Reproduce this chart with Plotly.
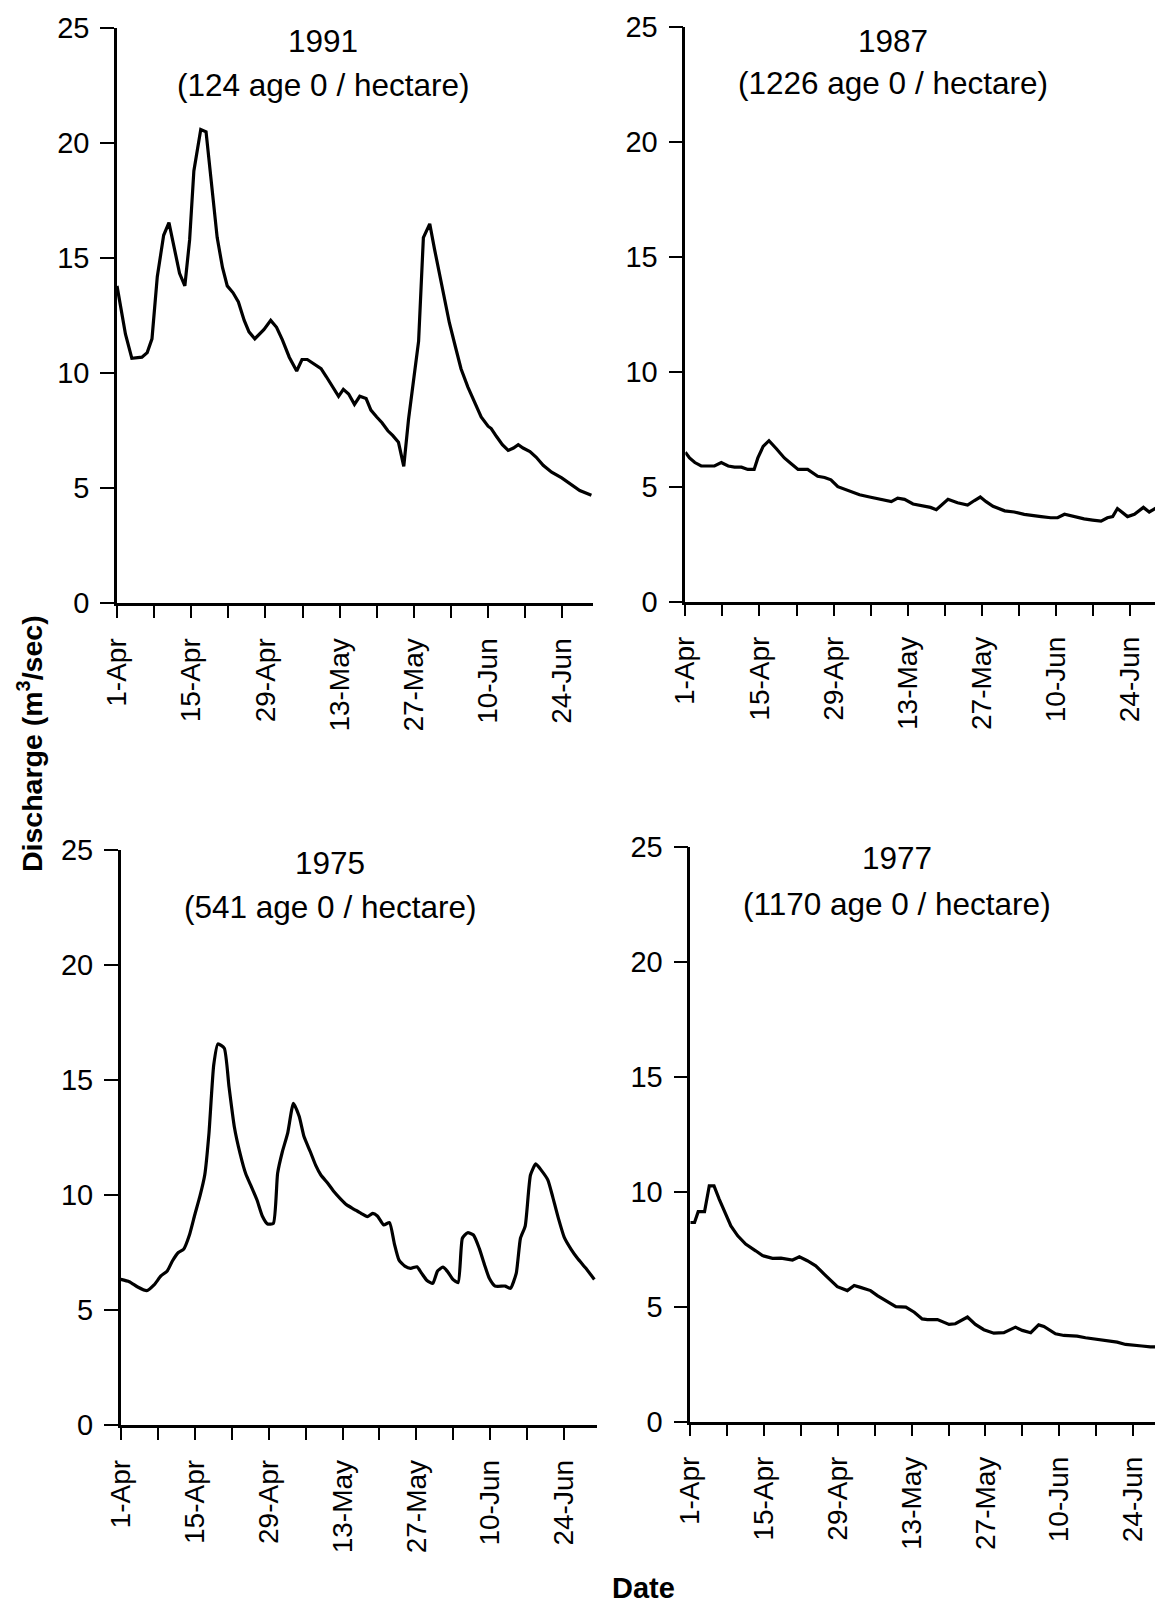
import plotly.graph_objects as go

# ---------------- data (day offset from 1-Apr, discharge m3/sec) ----------------
days_1991 = [0, 1.6, 2.8, 4.7, 5.7, 6.6, 7.6, 8.8, 9.8, 10.7,
             11.8, 12.8, 13.7, 14.5, 15.8, 16.8, 18.0, 18.9, 19.9, 20.8,
             21.9, 22.9, 24.0, 24.9, 26.0, 27.7, 29.0, 30.1, 31.2, 32.5,
             33.9, 34.9, 35.9, 37.2, 38.5, 39.5, 40.7, 41.8, 42.7, 43.7,
             44.8, 45.8, 47.0, 47.9, 49.0, 50.0, 51.1, 52.0, 53.1, 54.1,
             55.0, 56.1, 56.9, 57.8, 59.0, 59.9, 60.8, 61.8, 62.7, 63.9,
             64.9, 66.2, 67.5, 68.7, 70.0, 70.6, 71.6, 72.7, 73.8, 74.8,
             75.7, 76.6, 77.9, 79.1, 80.4, 82.0, 83.9, 85.8, 87.3, 89.5]
q_1991 = [13.8, 11.7, 10.65, 10.7, 10.9, 11.5, 14.2, 16.0, 16.55, 15.5,
          14.35, 13.8, 15.8, 18.8, 20.6, 20.5, 17.7, 15.9, 14.6, 13.8,
          13.5, 13.1, 12.3, 11.8, 11.5, 11.9, 12.3, 12.0, 11.45, 10.7,
          10.1, 10.6, 10.6, 10.4, 10.2, 9.85, 9.4, 9.0, 9.3, 9.1,
          8.65, 9.0, 8.9, 8.4, 8.1, 7.85, 7.5, 7.3, 7.0, 5.95,
          8.0, 10.1, 11.4, 15.9, 16.5, 15.4, 14.4, 13.2, 12.2, 11.1,
          10.2, 9.4, 8.7, 8.1, 7.7, 7.6, 7.25, 6.9, 6.65, 6.75,
          6.9, 6.75, 6.6, 6.35, 6.0, 5.7, 5.45, 5.15, 4.9, 4.7]

days_1987 = [0, 0.8, 1.8, 3.0, 5.5, 6.8, 8.1, 9.3, 10.6, 11.8,
             13.0, 13.7, 14.7, 15.8, 17.2, 18.7, 20.0, 21.3, 23.1, 25.0,
             26.3, 27.5, 28.8, 30.7, 32.9, 34.8, 37.0, 38.9, 40.1, 41.4,
             43.0, 45.2, 46.3, 47.4, 48.3, 49.6, 51.4, 53.3, 54.6, 55.7,
             56.8, 58.1, 60.3, 62.1, 64.0, 65.3, 67.2, 69.0, 70.3, 71.6,
             73.4, 75.3, 76.9, 78.5, 79.7, 80.7, 81.6, 82.6, 83.5, 84.8,
             86.5, 87.6, 88.6, 89.5]
q_1987 = [6.5, 6.25, 6.05, 5.9, 5.9, 6.05, 5.9, 5.85, 5.85, 5.75,
          5.75, 6.25, 6.75, 7.0, 6.65, 6.25, 6.0, 5.75, 5.75, 5.45,
          5.4, 5.3, 5.0, 4.85, 4.65, 4.55, 4.45, 4.35, 4.5, 4.45,
          4.25, 4.15, 4.1, 4.0, 4.2, 4.45, 4.3, 4.2, 4.4, 4.55,
          4.35, 4.15, 3.95, 3.9, 3.8, 3.75, 3.7, 3.65, 3.65, 3.8,
          3.7, 3.6, 3.55, 3.5, 3.65, 3.7, 4.05, 3.85, 3.7, 3.8,
          4.1, 3.9, 4.05, 4.15]

days_1975 = [0, 1.6, 3.2, 4.9, 6.3, 7.6, 8.8, 9.8, 10.9, 11.9,
             13.0, 14.0, 15.0, 15.9, 16.7, 17.6, 18.4, 19.6, 20.5, 21.5,
             22.6, 23.7, 24.6, 25.8, 26.8, 27.8, 28.9, 29.7, 30.6, 31.6,
             32.7, 33.8, 34.7, 35.9, 36.9, 37.9, 39.2, 40.4, 41.7, 42.8,
             44.2, 45.5, 46.7, 47.7, 48.6, 49.8, 50.9, 51.8, 52.7, 53.8,
             54.9, 56.1, 57.0, 58.0, 59.1, 60.0, 61.0, 61.9, 62.9, 63.9,
             64.7, 65.7, 66.8, 67.9, 68.9, 69.8, 70.9, 72.8, 73.8, 74.9,
             75.7, 76.6, 77.6, 78.6, 79.7, 80.9, 81.8, 82.8, 84.0, 85.3,
             86.5, 88.1, 89.7]
q_1975 = [6.33, 6.23, 6.0, 5.84, 6.09, 6.48, 6.7, 7.14, 7.5, 7.64,
          8.26, 9.13, 9.96, 10.87, 12.68, 15.65, 16.57, 16.38, 14.7, 12.97,
          11.8, 10.9, 10.43, 9.78, 9.09, 8.74, 8.77, 10.94, 11.88, 12.68,
          13.99, 13.41, 12.54, 11.88, 11.3, 10.87, 10.51, 10.14, 9.81, 9.57,
          9.38, 9.2, 9.06, 9.2, 9.09, 8.7, 8.8, 7.9, 7.17, 6.91,
          6.81, 6.88, 6.59, 6.28, 6.16, 6.7, 6.86, 6.67, 6.33, 6.19,
          8.12, 8.36, 8.26, 7.68, 6.96, 6.38, 6.04, 6.04, 5.94, 6.59,
          8.12, 8.65, 10.87, 11.35, 11.06, 10.65, 9.93, 9.06, 8.16, 7.64,
          7.25, 6.81, 6.33]

days_1977 = [0, 0.8, 1.5, 2.7, 3.6, 4.5, 5.5, 6.8, 7.7, 9.0,
             10.5, 12.4, 13.7, 15.6, 17.2, 19.4, 20.7, 22.2, 23.8, 25.4,
             26.7, 27.9, 29.8, 31.1, 32.3, 34.2, 35.5, 37.4, 39.0, 40.9,
             42.5, 44.0, 45.0, 46.9, 49.1, 50.3, 51.3, 52.6, 54.1, 55.7,
             57.6, 59.5, 61.7, 63.0, 64.6, 66.1, 67.1, 69.3, 70.9, 73.4,
             75.0, 77.2, 79.1, 81.0, 82.6, 83.8, 85.7, 87.3, 89.2]
q_1977 = [8.66, 8.66, 9.13, 9.13, 10.25, 10.25, 9.67, 8.95, 8.51, 8.08,
          7.72, 7.43, 7.22, 7.1, 7.11, 7.03, 7.17, 7.0, 6.78, 6.42,
          6.13, 5.87, 5.7, 5.92, 5.84, 5.7, 5.48, 5.24, 5.0, 4.98,
          4.76, 4.47, 4.44, 4.44, 4.23, 4.26, 4.4, 4.55, 4.23, 4.0,
          3.85, 3.87, 4.11, 3.97, 3.87, 4.21, 4.14, 3.82, 3.75, 3.72,
          3.65, 3.58, 3.49, 3.46, 3.36, 3.32, 3.29, 3.25, 3.25]

years = ["1991", "1987", "1975", "1977"]
densities = ["(124 age 0 / hectare)", "(1226 age 0 / hectare)",
             "(541 age 0 / hectare)", "(1170 age 0 / hectare)"]

x_tickvals = [0, 14, 28, 42, 56, 70, 84]
x_ticktext = ["1-Apr", "15-Apr", "29-Apr", "13-May", "27-May", "10-Jun", "24-Jun"]
x_minor_step = 7
y_tickvals = [0, 5, 10, 15, 20, 25]

# ---------------- layout geometry ----------------
W, H = 1163, 1605
OFF = 8  # page body margin
FONT = "Liberation Sans, Arial, Helvetica, sans-serif"


def px_x(p):
    return (p - OFF) / W


def px_y(p):
    return 1 - (p - OFF) / H


# (x0px, x1px, xmax_day, y_bottom_px(0), y_top_px(25)) in page pixels
panels = [
    (117.0, 593.0, 89.8, 603.3, 28.3),
    (685.3, 1163.0, 90.2, 601.7, 26.7),
    (120.8, 597.0, 90.2, 1425.0, 850.0),
    (690.3, 1163.0, 89.7, 1421.7, 846.7),
]
series = [(days_1991, q_1991), (days_1987, q_1987),
          (days_1975, q_1975), (days_1977, q_1977)]
title_pos = [(323, 41, 85), (893, 41, 83), (330, 863, 907), (897, 858, 904)]

fig = go.Figure()
layout_axes = {}
annotations = []
for i, ((x0, x1, xmax, yb, yt), (dx, dq)) in enumerate(zip(panels, series)):
    n = "" if i == 0 else str(i + 1)
    fig.add_trace(go.Scatter(
        x=dx, y=dq, mode="lines",
        line=dict(color="black", width=3.2,
                  shape="spline" if i == 2 else "linear",
                  smoothing=0.5),
        xaxis="x" + n, yaxis="y" + n, showlegend=False, hoverinfo="skip"))
    layout_axes["xaxis" + n] = dict(
        domain=[px_x(x0), min(px_x(x1), 1.0)], range=[0, xmax],
        anchor="y" + n, showline=True, linecolor="black", linewidth=2.5,
        ticks="outside", ticklen=12, tickwidth=2, tickcolor="black",
        tickmode="array", tickvals=x_tickvals, ticktext=x_ticktext,
        tickangle=-90, ticklabelstandoff=9,
        minor=dict(tick0=0, dtick=x_minor_step, ticks="outside", ticklen=12,
                   tickwidth=2, tickcolor="black", showgrid=False),
        tickfont=dict(family=FONT, size=28, color="black"),
        showgrid=False, zeroline=False, fixedrange=True, automargin=False)
    layout_axes["yaxis" + n] = dict(
        domain=[px_y(yb), px_y(yt)], range=[0, 25],
        anchor="x" + n, showline=True, linecolor="black", linewidth=2.5,
        ticks="outside", ticklen=14, tickwidth=2, tickcolor="black",
        tickmode="array", tickvals=y_tickvals, ticklabelstandoff=5,
        tickfont=dict(family=FONT, size=29, color="black"),
        showgrid=False, zeroline=False, fixedrange=True, automargin=False)
    tx, ty1, ty2 = title_pos[i]
    annotations.append(dict(text=years[i], x=px_x(tx), y=px_y(ty1),
                            xref="paper", yref="paper", showarrow=False,
                            xanchor="center", yanchor="middle",
                            font=dict(family=FONT, size=31.5, color="black")))
    annotations.append(dict(text=densities[i], x=px_x(tx), y=px_y(ty2),
                            xref="paper", yref="paper", showarrow=False,
                            xanchor="center", yanchor="middle",
                            font=dict(family=FONT, size=31.5, color="black")))

annotations.append(dict(text="<b>Discharge (m<sup>3</sup>/sec)</b>",
                        x=px_x(30), y=px_y(744), xref="paper", yref="paper",
                        showarrow=False, textangle=-90,
                        xanchor="center", yanchor="middle",
                        font=dict(family=FONT, size=28.5, color="black")))
annotations.append(dict(text="<b>Date</b>", x=px_x(643), y=px_y(1588),
                        xref="paper", yref="paper", showarrow=False,
                        xanchor="center", yanchor="middle",
                        font=dict(family=FONT, size=29, color="black")))

fig.update_layout(
    template="none",
    width=W, height=H, autosize=False,
    margin=dict(l=0, r=0, t=0, b=0, pad=0),
    paper_bgcolor="white", plot_bgcolor="white",
    annotations=annotations, **layout_axes)

fig.write_html("out.html")
